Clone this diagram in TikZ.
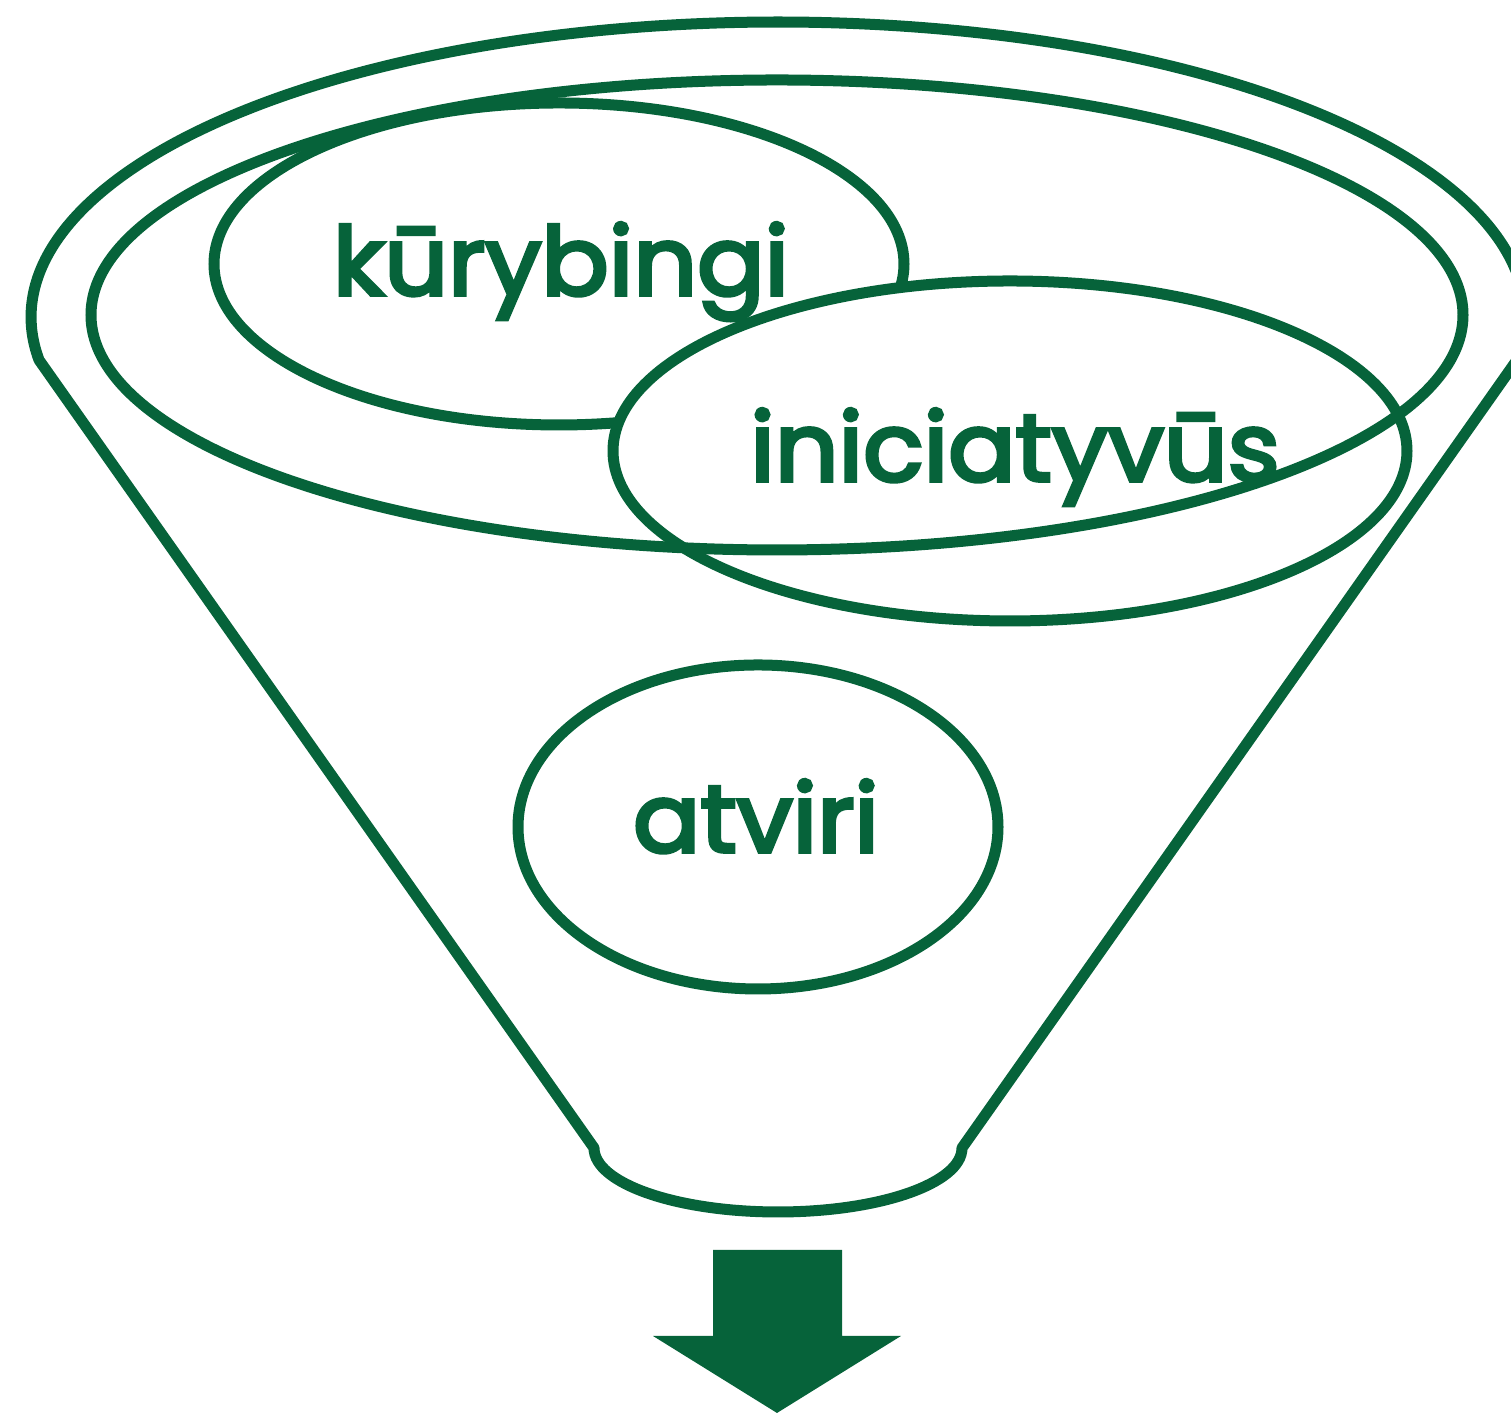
\documentclass[tikz,border=0pt]{standalone}
\usepackage{fontspec}
\setmainfont{Poppins}
\newfontfamily\labfont{Poppins}[FakeBold=4,FakeStretch=1.05]
\definecolor{fgreen}{RGB}{6,99,58}
\begin{document}
\begin{tikzpicture}[x=0.01cm,y=0.01cm,
  outline/.style={draw=fgreen,line width=0.11cm,line join=round},
  label/.style={text=fgreen,font=\labfont\fontsize{27}{32}\selectfont,inner sep=0pt,anchor=base}]
\useasboundingbox (0,0) rectangle (1511,1413);
% funnel
\draw[outline] (39,1053) -- (594,265)
  arc[start angle=180,end angle=360,x radius=184,y radius=64]
  -- (1517,1053)
  arc[start angle=-8.38,end angle=188.38,x radius=747,y radius=295] -- cycle;
% ellipse centres
\coordinate (kc) at (559,1149);
\coordinate (ic) at (1010,962);
\coordinate (oc) at (777,1098);
\coordinate (ac) at (758,586);
\draw[outline] (kc) ellipse [x radius=345,y radius=161];
\draw[outline,fill=white] (ic) ellipse [x radius=397,y radius=170];
\draw[outline] (oc) ellipse [x radius=686,y radius=235];
\draw[outline] (ac) ellipse [x radius=240,y radius=162];
\node[label] (kt) at (561,1118) {kūrybingi};
\node[label] (it) at (1015,932) {iniciatyvūs};
\node[label] (at) at (756,561) {atviri};
% arrow
\fill[fgreen] (713,163) -- (842,163) -- (842,77) -- (901,77) -- (777,0) -- (653,77) -- (713,77) -- cycle;
\end{tikzpicture}
\end{document}
